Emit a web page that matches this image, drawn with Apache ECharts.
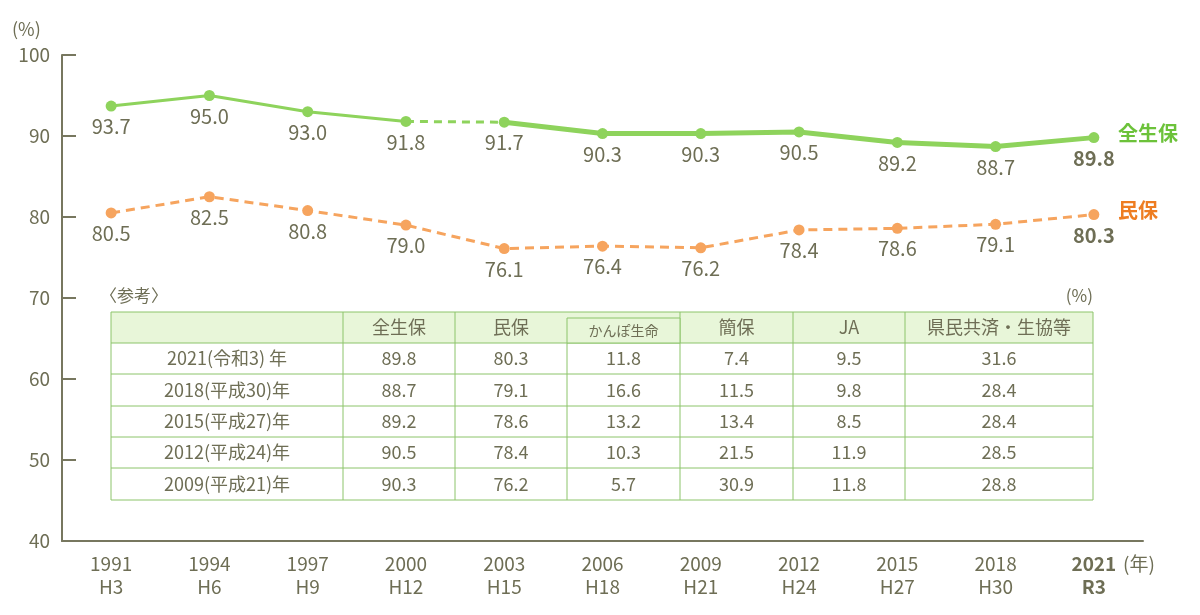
<!DOCTYPE html>
<html><head><meta charset="utf-8">
<script src="https://cdn.jsdelivr.net/npm/echarts@6/dist/echarts.min.js"></script>
<style>html,body{margin:0;background:#fff}#c{width:1200px;height:615px}</style>
</head><body><div id="c"></div>
<script>
var years = ['1991', '1994', '1997', '2000', '2003', '2006', '2009', '2012', '2015', '2018', '2021'];
var eras = ['H3', 'H6', 'H9', 'H12', 'H15', 'H18', 'H21', 'H24', 'H27', 'H30', 'R3'];
var zenValues = [93.7, 95.0, 93.0, 91.8, 91.7, 90.3, 90.3, 90.5, 89.2, 88.7, 89.8];
var minValues = [80.5, 82.5, 80.8, 79.0, 76.1, 76.4, 76.2, 78.4, 78.6, 79.1, 80.3];
var tableHeader = ['', '全生保', '民保', 'かんぽ生命', '簡保', 'JA', '県民共済・生協等'];
var tableRows = [
  ['2021(令和3) 年', '89.8', '80.3', '11.8', '7.4', '9.5', '31.6'],
  ['2018(平成30)年', '88.7', '79.1', '16.6', '11.5', '9.8', '28.4'],
  ['2015(平成27)年', '89.2', '78.6', '13.2', '13.4', '8.5', '28.4'],
  ['2012(平成24)年', '90.5', '78.4', '10.3', '21.5', '11.9', '28.5'],
  ['2009(平成21)年', '90.3', '76.2', '5.7', '30.9', '11.8', '28.8']
];

var TXT = '#6e6e55', GREEN = '#8ed35c', ORANGE = '#f6a45e';
var FONT = '"Noto Sans CJK JP", "Noto Sans", sans-serif';

// 全生保 is drawn in three pieces: thin solid, dashed, thick solid
function part(from, to) {
  return zenValues.map(function (v, i) { return (i >= from && i <= to) ? v : '-'; });
}

var lastLabel = { fontWeight: 'bold', fontSize: 20 };
function labelOpt() {
  return {
    show: true, position: 'bottom', distance: 5, color: TXT, fontSize: 20, fontFamily: FONT,
    formatter: function (p) { return p.value.toFixed(1); }
  };
}
function seriesData(arr) {
  return arr.map(function (v, i) {
    var d = { value: v };
    if (i === arr.length - 1) d.label = lastLabel;
    return d;
  });
}

// table graphics
var colX = [111, 343, 455, 567, 680, 793, 905, 1093];
var rowY = [312, 343, 374, 406, 437, 468, 500];
var BORDER = '#8cc46a';
var g = [];
g.push({ type: 'rect', shape: { x: colX[0], y: rowY[0], width: colX[7] - colX[0], height: rowY[1] - rowY[0] }, style: { fill: '#e8f6d9' } });
g.push({ type: 'rect', shape: { x: colX[3], y: 318, width: colX[4] - colX[3], height: rowY[1] - 318 }, style: { fill: '#e8f6d9', stroke: BORDER, lineWidth: 1 }, z: 10 });
rowY.forEach(function (y) {
  g.push({ type: 'line', shape: { x1: colX[0], y1: y, x2: colX[7], y2: y }, style: { stroke: BORDER, lineWidth: 1 } });
});
colX.forEach(function (x, c) {
  g.push({ type: 'line', shape: { x1: x, y1: c === 3 ? rowY[1] : rowY[0], x2: x, y2: rowY[6] }, style: { stroke: BORDER, lineWidth: 1 } });
});
tableHeader.forEach(function (t, c) {
  if (!t) return;
  var cy = c === 3 ? (318 + rowY[1]) / 2 : (rowY[0] + rowY[1]) / 2;
  g.push({ type: 'text', x: (colX[c] + colX[c + 1]) / 2, y: cy, z: 11,
    style: { text: t, fill: TXT, font: (c === 3 ? 14 : 18) + 'px ' + FONT, align: 'center', verticalAlign: 'middle' } });
});
tableRows.forEach(function (row, r) {
  row.forEach(function (t, c) {
    g.push({ type: 'text', x: (colX[c] + colX[c + 1]) / 2, y: (rowY[r + 1] + rowY[r + 2]) / 2,
      style: { text: t, fill: TXT, font: '18px ' + FONT, align: 'center', verticalAlign: 'middle' } });
  });
});
g.push({ type: 'text', x: 100, y: 296, style: { text: '〈参考〉', fill: TXT, font: '17px ' + FONT, verticalAlign: 'middle' } });
g.push({ type: 'text', x: 1093, y: 296, style: { text: '(%)', fill: TXT, font: '17px ' + FONT, align: 'right', verticalAlign: 'middle' } });
g.push({ type: 'text', x: 12, y: 29, style: { text: '(%)', fill: TXT, font: '18px ' + FONT, verticalAlign: 'middle' } });
g.push({ type: 'text', x: 1123, y: 564, style: { text: '(年)', fill: TXT, font: '19px ' + FONT, verticalAlign: 'middle' } });
g.push({ type: 'text', x: 1118, y: 133, style: { text: '全生保', fill: '#6cc23a', font: 'bold 20px ' + FONT, verticalAlign: 'middle' } });
g.push({ type: 'text', x: 1118, y: 210, style: { text: '民保', fill: '#ee7d22', font: 'bold 20px ' + FONT, verticalAlign: 'middle' } });

var chart = echarts.init(document.getElementById('c'));
chart.setOption({
  animation: false,
  textStyle: { fontFamily: FONT },
  grid: { left: 62, right: 57, top: 55, bottom: 74 },
  xAxis: {
    type: 'category', data: years, boundaryGap: true,
    axisLine: { lineStyle: { color: '#77775f', width: 2 } },
    axisTick: { alignWithLabel: true, inside: true, length: 12, lineStyle: { color: '#77775f', width: 2 } },
    axisLabel: {
      margin: 11, lineHeight: 23, color: TXT, fontSize: 19,
      formatter: function (v, i) {
        return i === years.length - 1 ? '{b|' + v + '}\n{b|' + eras[i] + '}' : v + '\n' + eras[i];
      },
      rich: { b: { fontWeight: 'bold', fontSize: 19, color: TXT, lineHeight: 23 } }
    }
  },
  yAxis: {
    type: 'value', min: 40, max: 100, interval: 10,
    splitLine: { show: false },
    axisLine: { show: true, lineStyle: { color: '#77775f', width: 2 } },
    axisTick: { show: true, inside: true, length: 14, lineStyle: { color: '#77775f', width: 2 } },
    axisLabel: { color: TXT, fontSize: 19, margin: 12 }
  },
  graphic: g,
  series: [
    { type: 'line', data: part(0, 3), symbol: 'circle', symbolSize: 11, itemStyle: { color: GREEN },
      lineStyle: { color: GREEN, width: 3 }, label: labelOpt(), z: 3 },
    { type: 'line', data: part(3, 4), symbol: 'none', lineStyle: { color: GREEN, width: 3, type: [8, 6] }, z: 2 },
    { type: 'line', data: seriesData(part(4, 10)), symbol: 'circle', symbolSize: 11, itemStyle: { color: GREEN },
      lineStyle: { color: GREEN, width: 5 }, label: labelOpt(), z: 3 },
    { type: 'line', data: seriesData(minValues), symbol: 'circle', symbolSize: 11, itemStyle: { color: ORANGE },
      lineStyle: { color: ORANGE, width: 3, type: [9, 6] }, label: labelOpt(), z: 3 }
  ]
});
</script></body></html>
